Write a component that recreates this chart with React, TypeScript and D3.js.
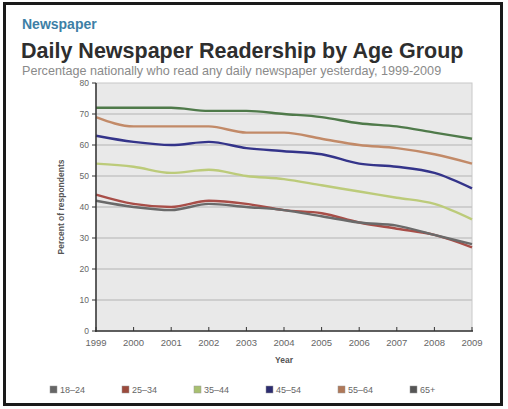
import React from "react";
import * as d3 from "d3";

const years = [1999, 2000, 2001, 2002, 2003, 2004, 2005, 2006, 2007, 2008, 2009];
const yTicks = [0, 10, 20, 30, 40, 50, 60, 70, 80];
const seriesNames = ["18-24", "25-34", "35-44", "45-54", "55-64", "65+"];
const s1824 = [42, 40, 39, 41, 40, 39, 37, 35, 34, 31, 28];
const s2534 = [44, 41, 40, 42, 41, 39, 38, 35, 33, 31, 27];
const s3544 = [54, 53, 51, 52, 50, 49, 47, 45, 43, 41, 36];
const s4554 = [63, 61, 60, 61, 59, 58, 57, 54, 53, 51, 46];
const s5564 = [69, 66, 66, 66, 64, 64, 62, 60, 59, 57, 54];
const s65 = [72, 72, 72, 71, 71, 70, 69, 67, 66, 64, 62];
const lineColors = ["#6a6a6a", "#a84e48", "#bccb7a", "#34348a", "#c28a68", "#4f7a4a"];
const swatchColors = ["#666666", "#9c4a3c", "#a8c070", "#2c2c70", "#b07858", "#555555"];

export default function App() {
  const data = [s1824, s2534, s3544, s4554, s5564, s65];
  const x = d3.scaleLinear().domain([1999, 2009]).range([96, 472]);
  const y = d3.scaleLinear().domain([0, 80]).range([331, 83]);
  const line = d3
    .line<number>()
    .x((_, i) => x(years[i]))
    .y((d) => y(d))
    .curve(d3.curveMonotoneX);
  const font = "Liberation Sans, Arial, sans-serif";
  const order = [1, 0, 2, 3, 4, 5];
  return (
    <svg
      width={508}
      height={409}
      style={{ position: "absolute", left: 0, top: 0, background: "#fff" }}
      fontFamily={font}
    >
      <rect x={4.5} y={3.5} width={497} height={401} fill="#fff" stroke="#1a1a1a" strokeWidth={3} />
      <text x={22} y={29} fontSize={14} fontWeight="bold" fill="#3d7fa6">
        Newspaper
      </text>
      <text x={21} y={58} fontSize={21.5} fontWeight="bold" fill="#2e2e2e">
        Daily Newspaper Readership by Age Group
      </text>
      <text x={22} y={75} fontSize={12.6} fill="#8a8a8a">
        Percentage nationally who read any daily newspaper yesterday, 1999-2009
      </text>

      <rect x={96} y={83} width={376} height={248} fill="#e9e9e9" stroke="#c8c8c8" strokeWidth={1} />
      {yTicks.filter((t) => t > 0 && t < 80).map((t) => (
        <line key={"g" + t} x1={96} x2={472} y1={y(t)} y2={y(t)} stroke="#c4c4c4" strokeWidth={1.3} />
      ))}

      {order.map((k) => (
        <path
          key={"l" + k}
          d={line(data[k]) || ""}
          fill="none"
          stroke={lineColors[k]}
          strokeWidth={2.4}
          strokeLinejoin="round"
        />
      ))}

      <line x1={96} x2={96} y1={83} y2={332} stroke="#333" strokeWidth={1.5} />
      <line x1={95} x2={473} y1={331} y2={331} stroke="#333" strokeWidth={1.5} />
      {yTicks.map((t) => (
        <g key={"yt" + t}>
          <line x1={92} x2={96} y1={y(t)} y2={y(t)} stroke="#333" strokeWidth={1} />
          <text x={89} y={y(t) + 3} fontSize={8.5} fill="#666" textAnchor="end">
            {t}
          </text>
        </g>
      ))}
      {years.map((yr) => (
        <g key={"xt" + yr}>
          <line x1={x(yr)} x2={x(yr)} y1={327} y2={331} stroke="#333" strokeWidth={1} />
          <text x={x(yr)} y={346} fontSize={9.5} fill="#666" textAnchor="middle">
            {yr}
          </text>
        </g>
      ))}
      <text x={284} y={363} fontSize={8.5} fontWeight="bold" fill="#555" textAnchor="middle">
        Year
      </text>
      <text
        transform={`translate(64,${(83 + 331) / 2}) rotate(-90)`}
        fontSize={8.5}
        fontWeight="bold"
        fill="#555"
        textAnchor="middle"
      >
        Percent of respondents
      </text>

      {seriesNames.map((n, i) => {
        const lx = 50 + i * 72;
        return (
          <g key={"lg" + n}>
            <rect x={lx} y={386} width={7} height={7} fill={swatchColors[i]} stroke="#999" strokeWidth={0.5} />
            <text x={lx + 10} y={393} fontSize={9} fill="#666">
              {n.replace("-", "\u2013")}
            </text>
          </g>
        );
      })}
    </svg>
  );
}
